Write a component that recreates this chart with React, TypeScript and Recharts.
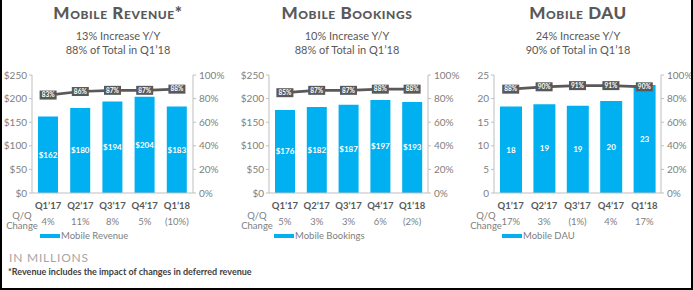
import React from "react";
import { ComposedChart, Bar, Line, XAxis, YAxis, LabelList } from "recharts";

const quarters = ["Q1’17", "Q2’17", "Q3’17", "Q4’17", "Q1’18"];

const revenue = [162, 180, 194, 204, 183];
const revenueShare = [83, 86, 87, 87, 88];
const revenueQoQ = ["4%", "11%", "8%", "5%", "(10%)"];

const bookings = [176, 182, 187, 197, 193];
const bookingsShare = [85, 87, 87, 88, 88];
const bookingsQoQ = ["5%", "3%", "3%", "6%", "(2%)"];

const dau = [18.3, 18.8, 18.5, 19.5, 22.9];
const dauShare = [88, 90, 91, 91, 90];
const dauQoQ = ["17%", "3%", "(1%)", "4%", "17%"];

const dollarTicks = [0, 50, 100, 150, 200, 250];
const dauTicks = [0, 5, 10, 15, 20, 25];
const pctTicks = [0, 20, 40, 60, 80, 100];

const FONT = "Lato, 'Open Sans', sans-serif";
const BLUE = "#00b0f0";
const DARK = "#595959";
const AXIS = "#bfbfbf";
const TICK = "#808080";

const makeData = (vals: number[], share: number[], qoq: string[]) =>
  quarters.map((q, i) => ({ q, v: vals[i], s: share[i], qoq: qoq[i] }));

const ShareLabel = (props: any) => {
  const { x, y, value } = props;
  if (x == null || y == null) return null;
  return (
    <g>
      <rect x={x - 8.5} y={y - 4.5} width={17} height={9} fill={DARK} />
      <text
        x={x}
        y={y + 2.3}
        textAnchor="middle"
        fill="#ffffff"
        fontSize={6.5}
        fontWeight="bold"
        fontFamily={FONT}
      >
        {value}%
      </text>
    </g>
  );
};

type PanelProps = {
  left: number;
  width: number;
  titleLeft: number;
  titleWidth: number;
  title: string;
  sub1: string;
  sub2: string;
  data: any[];
  yMax: number;
  yTicks: number[];
  yFmt: (v: number) => string;
  barFmt: (v: number) => string;
  barSize: number;
  legend: string;
  legendLeft: number;
  qqLeft: number;
};

const Panel = (p: PanelProps) => {
  const QuarterTick = (tp: any) => {
    const { x, y, payload, index } = tp;
    const row = p.data[index] || p.data.find((d) => d.q === payload.value);
    return (
      <g>
        <text
          x={x}
          y={y + 16}
          textAnchor="middle"
          fill={DARK}
          fontSize={9.5}
          fontWeight="bold"
          fontFamily={FONT}
        >
          {payload.value}
        </text>
        <text
          x={x}
          y={y + 32}
          textAnchor="middle"
          fill={TICK}
          fontSize={9.5}
          fontFamily={FONT}
        >
          {row ? row.qoq : ""}
        </text>
      </g>
    );
  };
  return (
    <>
      <div
        style={{
          position: "absolute",
          left: p.titleLeft,
          top: 3,
          width: p.titleWidth,
          textAlign: "center",
          fontFamily: FONT,
          fontWeight: 900,
          fontSize: 17,
          lineHeight: "20px",
          fontVariant: "small-caps",
          letterSpacing: 0.6,
          color: DARK,
          whiteSpace: "nowrap",
        }}
      >
        {p.title}
      </div>
      <div
        style={{
          position: "absolute",
          left: p.titleLeft,
          top: 29,
          width: p.titleWidth,
          textAlign: "center",
          fontFamily: FONT,
          fontSize: 11,
          lineHeight: "14px",
          color: DARK,
          whiteSpace: "nowrap",
        }}
      >
        <div>{p.sub1}</div>
        <div>{p.sub2}</div>
      </div>
      <div style={{ position: "absolute", left: p.left, top: 65 }}>
        <ComposedChart
          width={p.width}
          height={168}
          data={p.data}
          margin={{ top: 10, right: 0, bottom: 0, left: 0 }}
        >
          <XAxis
            dataKey="q"
            xAxisId={0}
            height={40}
            axisLine={{ stroke: AXIS }}
            tickLine={false}
            tickSize={0}
            tickMargin={0}
            tick={<QuarterTick />}
            interval={0}
          />
          <YAxis
            yAxisId="left"
            orientation="left"
            width={32}
            domain={[0, p.yMax]}
            ticks={p.yTicks}
            tickFormatter={p.yFmt}
            axisLine={{ stroke: AXIS }}
            tickLine={{ stroke: AXIS }}
            tickSize={3}
            tickMargin={2}
            tick={{ fill: TICK, fontSize: 10, fontFamily: FONT }}
            interval={0}
          />
          <YAxis
            yAxisId="right"
            orientation="right"
            width={38}
            domain={[0, 100]}
            ticks={pctTicks}
            tickFormatter={(v: number) => `${v}%`}
            axisLine={{ stroke: AXIS }}
            tickLine={{ stroke: AXIS }}
            tickSize={3}
            tickMargin={3}
            tick={{ fill: TICK, fontSize: 10, fontFamily: FONT }}
            interval={0}
          />
          <Bar
            yAxisId="left"
            dataKey="v"
            fill={BLUE}
            barSize={p.barSize}
            isAnimationActive={false}
          >
            <LabelList
              dataKey="v"
              position="center"
              formatter={(v: any) => p.barFmt(Number(v))}
              fill="#ffffff"
              fontSize={8}
              fontWeight="bold"
              fontFamily={FONT}
            />
          </Bar>
          <Line
            yAxisId="right"
            dataKey="s"
            type="linear"
            stroke={DARK}
            strokeWidth={2.7}
            dot={false}
            activeDot={false}
            isAnimationActive={false}
          >
            <LabelList dataKey="s" content={<ShareLabel />} />
          </Line>
        </ComposedChart>
      </div>
      <div
        style={{
          position: "absolute",
          left: p.qqLeft - 20,
          width: 40,
          top: 211,
          textAlign: "center",
          fontFamily: FONT,
          fontSize: 9.5,
          lineHeight: "10px",
          color: TICK,
        }}
      >
        <div>Q/Q</div>
        <div>Change</div>
      </div>
      <div
        style={{
          position: "absolute",
          left: p.legendLeft,
          top: 234,
          width: 20,
          height: 4,
          background: BLUE,
        }}
      />
      <div
        style={{
          position: "absolute",
          left: p.legendLeft + 21,
          top: 230,
          fontFamily: FONT,
          fontSize: 9.5,
          lineHeight: "12px",
          color: TICK,
          whiteSpace: "nowrap",
        }}
      >
        {p.legend}
      </div>
    </>
  );
};

export default function App() {
  return (
    <div
      style={{
        position: "absolute",
        left: 0,
        top: 0,
        width: 693,
        height: 290,
        overflow: "hidden",
        background: "#ffffff",
      }}
    >
      <Panel
        left={0}
        width={231}
        titleLeft={3}
        titleWidth={230}
        title="Mobile Revenue*"
        sub1="13% Increase Y/Y"
        sub2="88% of Total in Q1’18"
        data={makeData(revenue, revenueShare, revenueQoQ)}
        yMax={250}
        yTicks={dollarTicks}
        yFmt={(v) => `$${v}`}
        barFmt={(v) => `$${v}`}
        barSize={20}
        legend="Mobile Revenue"
        legendLeft={40}
        qqLeft={22}
      />
      <Panel
        left={237}
        width={229}
        titleLeft={232}
        titleWidth={230}
        title="Mobile Bookings"
        sub1="10% Increase Y/Y"
        sub2="88% of Total in Q1’18"
        data={makeData(bookings, bookingsShare, bookingsQoQ)}
        yMax={250}
        yTicks={dollarTicks}
        yFmt={(v) => `$${v}`}
        barFmt={(v) => `$${v}`}
        barSize={20}
        legend="Mobile Bookings"
        legendLeft={274}
        qqLeft={257}
      />
      <Panel
        left={462}
        width={237}
        titleLeft={463}
        titleWidth={230}
        title="Mobile DAU"
        sub1="24% Increase Y/Y"
        sub2="90% of Total in Q1’18"
        data={makeData(dau, dauShare, dauQoQ)}
        yMax={25}
        yTicks={dauTicks}
        yFmt={(v) => `${v}`}
        barFmt={(v) => `${Math.round(v)}`}
        barSize={22}
        legend="Mobile DAU"
        legendLeft={502}
        qqLeft={486}
      />
      <div
        style={{
          position: "absolute",
          left: 9,
          top: 252,
          fontFamily: FONT,
          fontSize: 12,
          lineHeight: "12px",
          letterSpacing: 0.8,
          color: "#a6a6a6",
          whiteSpace: "nowrap",
        }}
      >
        IN MILLIONS
      </div>
      <div
        style={{
          position: "absolute",
          left: 8,
          top: 267,
          fontFamily: FONT,
          fontSize: 9,
          fontWeight: "bold",
          lineHeight: "10px",
          color: "#404040",
          whiteSpace: "nowrap",
        }}
      >
        *Revenue includes the impact of changes in deferred revenue
      </div>
      <div
        style={{
          position: "absolute",
          left: 0,
          top: 0,
          width: 693,
          height: 290,
          boxSizing: "border-box",
          borderLeft: "2px solid #000",
          borderRight: "2px solid #000",
          borderBottom: "2px solid #000",
          pointerEvents: "none",
        }}
      />
    </div>
  );
}
